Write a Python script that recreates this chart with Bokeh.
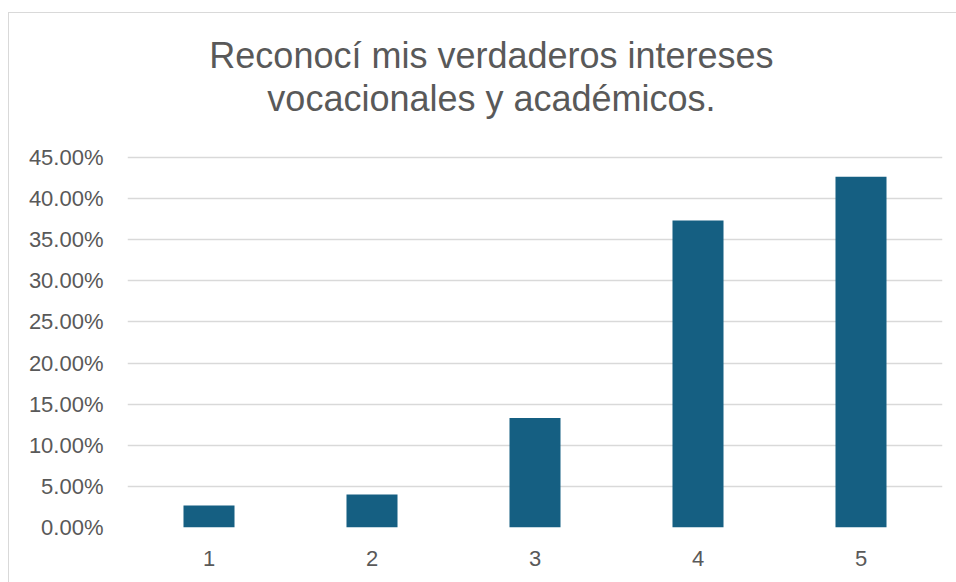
from bokeh.plotting import figure
from bokeh.models import Range1d, NumeralTickFormatter, FixedTicker, Label, ColumnDataSource
from bokeh.embed import file_html
from bokeh.resources import INLINE

categories = [1, 2, 3, 4, 5]
values = [0.0267, 0.04, 0.1333, 0.3733, 0.4267]
y_ticks = [0.0, 0.05, 0.10, 0.15, 0.20, 0.25, 0.30, 0.35, 0.40, 0.45]
title_lines = ["Reconocí mis verdaderos intereses", "vocacionales y académicos."]

W, H = 948, 570
p = figure(width=W, height=H, output_backend="svg", toolbar_location=None,
           x_range=Range1d(0.5, 5.5), y_range=Range1d(0, 0.45 * 514 / 370),
           min_border_left=118, min_border_right=15, min_border_top=0, min_border_bottom=56)
p.margin = (12, 0, 0, 8)
p.outline_line_color = None
p.background_fill_color = "white"
p.border_fill_color = "white"
p.styles = {"border-top": "1px solid #d9d9d9", "border-left": "1px solid #d9d9d9"}

src = ColumnDataSource(dict(x=categories, top=values))
p.vbar(x="x", top="top", bottom=0, width=0.313, source=src, fill_color="#155F82", line_color=None)

p.xgrid.grid_line_color = None
p.ygrid.grid_line_color = "#d9d9d9"
p.ygrid.grid_line_width = 1.5
p.ygrid.ticker = FixedTicker(ticks=y_ticks)

p.yaxis.ticker = FixedTicker(ticks=y_ticks)
p.yaxis.formatter = NumeralTickFormatter(format="0.00%")
p.xaxis.ticker = FixedTicker(ticks=categories)
for ax in (p.xaxis, p.yaxis):
    ax.axis_line_color = None
    ax.major_tick_line_color = None
    ax.minor_tick_line_color = None
    ax.major_label_text_font = "Liberation Sans"
    ax.major_label_text_font_size = "22px"
    ax.major_label_text_color = "#595959"
p.yaxis.major_label_standoff = 18
p.xaxis.major_label_standoff = 17

for txt, yy in zip(title_lines, [0.5735, 0.5219]):
    p.add_layout(Label(x=2.733, y=yy, text=txt, text_align="center", text_baseline="alphabetic",
                       text_font="Liberation Sans", text_font_size="36px", text_color="#595959"))

open("out.html", "w").write(file_html(p, INLINE))
